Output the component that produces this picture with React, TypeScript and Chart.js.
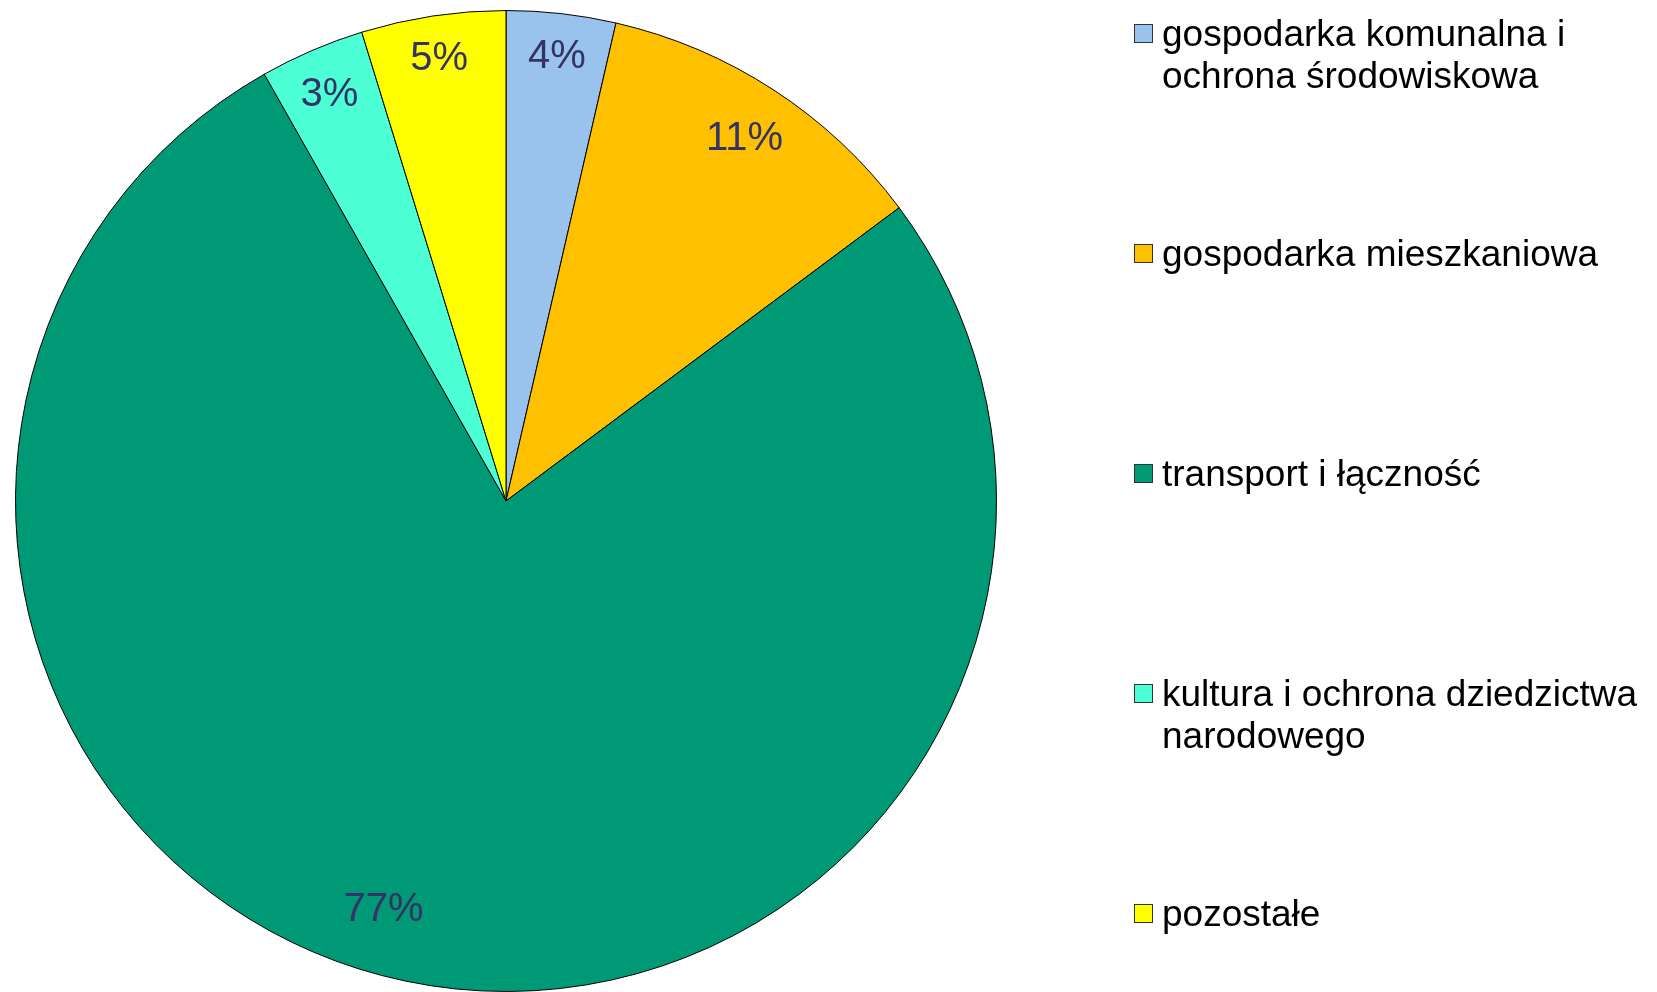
import React, { useEffect, useRef } from "react";
import { Chart, registerables } from "chart.js";

Chart.register(...registerables);

const categories: string[][] = [
  ["gospodarka komunalna i", "ochrona środowiskowa"],
  ["gospodarka mieszkaniowa"],
  ["transport i łączność"],
  ["kultura i ochrona dziedzictwa", "narodowego"],
  ["pozostałe"],
];
const values: number[] = [3.6, 11.2, 77.0, 3.45, 4.75];
const colors: string[] = ["#99C2EC", "#FFC000", "#009975", "#4CFFD5", "#FFFF00"];

// label placement styling (radius fraction, angle offset in degrees, y nudge px)
const labelRadius: number[] = [0.918, 0.89, 0.86, 0.91, 0.918];
const labelAngleOffset: number[] = [0, 0, 5, 0, 0];
const labelNudgeY: number[] = [3.5, 3.5, 5, 3.5, 3.5];
// legend row tops (px)
const legendTops: number[] = [13, 233, 453, 673, 893];

const labelPlugin = {
  id: "pctLabels",
  afterDatasetsDraw(chart: any) {
    const ctx = chart.ctx;
    const meta = chart.getDatasetMeta(0);
    const data = chart.data.datasets[0].data as number[];
    const total = data.reduce((a, b) => a + b, 0);
    ctx.save();
    ctx.font = "40px 'Liberation Sans', Arial, sans-serif";
    ctx.fillStyle = "#333366";
    ctx.textAlign = "center";
    ctx.textBaseline = "middle";
    meta.data.forEach((arc: any, i: number) => {
      const p = arc.getProps(["x", "y", "startAngle", "endAngle", "outerRadius"], true);
      const mid = (p.startAngle + p.endAngle) / 2 + (labelAngleOffset[i] * Math.PI) / 180;
      const r = p.outerRadius * labelRadius[i];
      const x = p.x + Math.cos(mid) * r;
      const y = p.y + Math.sin(mid) * r + labelNudgeY[i];
      ctx.fillText(Math.round((data[i] / total) * 100) + "%", x, y);
    });
    ctx.restore();
  },
};

export default function App() {
  const ref = useRef<HTMLCanvasElement | null>(null);
  useEffect(() => {
    document.body.style.margin = "0";
    if (!ref.current) return;
    const chart = new Chart(ref.current, {
      type: "pie",
      data: {
        labels: categories.map((c) => c.join(" ")),
        datasets: [
          {
            data: values,
            backgroundColor: colors,
            borderColor: "#000000",
            borderWidth: 1,
          },
        ],
      },
      options: {
        responsive: false,
        animation: false,
        layout: { padding: { left: 15, right: 660, top: 10, bottom: 0 } },
        plugins: {
          legend: { display: false },
          tooltip: { enabled: false },
        },
      },
      plugins: [labelPlugin],
    });
    return () => chart.destroy();
  }, []);

  return (
    <div
      style={{
        position: "relative",
        width: 1657,
        height: 992,
        background: "#ffffff",
        overflow: "hidden",
        fontFamily: "'Liberation Sans', Arial, sans-serif",
      }}
    >
      <canvas ref={ref} width={1657} height={992} style={{ display: "block" }} />
      {categories.map((lines, i) => (
        <div
          key={i}
          style={{
            position: "absolute",
            left: 1134,
            top: legendTops[i],
            display: "flex",
            alignItems: "flex-start",
          }}
        >
          <div
            style={{
              width: 17,
              height: 17,
              marginTop: 11,
              background: colors[i],
              border: "1px solid #333333",
              flex: "0 0 auto",
            }}
          />
          <div
            style={{
              marginLeft: 9,
              fontSize: 37,
              lineHeight: "42px",
              color: "#000000",
              whiteSpace: "nowrap",
            }}
          >
            {lines.map((l, j) => (
              <div key={j}>{l}</div>
            ))}
          </div>
        </div>
      ))}
    </div>
  );
}
